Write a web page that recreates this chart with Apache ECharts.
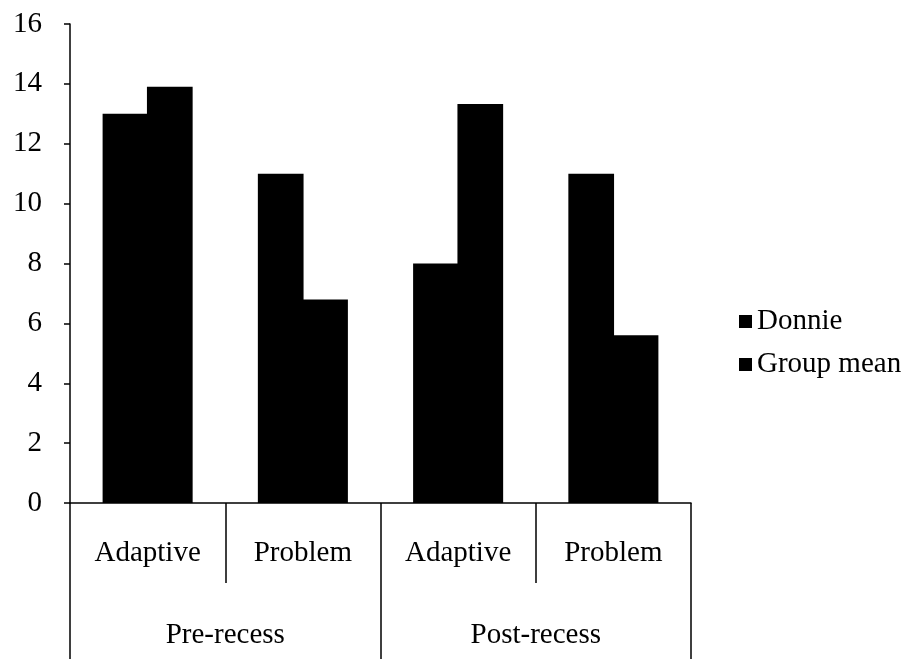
<!DOCTYPE html>
<html>
<head>
<meta charset="utf-8">
<script src="https://cdn.jsdelivr.net/npm/echarts@6/dist/echarts.min.js"></script>
<style>
  html, body { margin: 0; padding: 0; background: #fff; }
  #chart { width: 920px; height: 659px; }
</style>
</head>
<body>
<div id="chart"></div>
<script>
// chart data
var subCategories = ['Adaptive', 'Problem', 'Adaptive', 'Problem']
var groupCategories = ['Pre-recess', 'Post-recess']
var donnie = [13, 11, 8, 11]
var groupMean = [13.9, 6.8, 13.33, 5.6]

var serif = 'Liberation Serif, Times New Roman, serif'

var chart = echarts.init(document.getElementById('chart'))
chart.setOption({
    animation: false,
    textStyle: { fontFamily: serif, color: '#000' },
    grid: {
        left: 70,
        right: 229,
        top: 24,
        bottom: 156
    },
    legend: {
        orient: 'vertical',
        left: 734,
        top: 302,
        itemWidth: 13,
        itemHeight: 13,
        itemGap: 14,
        icon: 'rect',
        textStyle: { fontFamily: serif, fontSize: 29, color: '#000' },
        data: ['Donnie', 'Group mean']
    },
    xAxis: [{
        type: 'category',
        data: subCategories,
        position: 'bottom',
        axisLine: { show: true, lineStyle: { color: '#000', width: 1.5 } },
        axisTick: { show: true, interval: 0, length: 80, lineStyle: { color: '#000', width: 1.5 } },
        axisLabel: { interval: 0, margin: 36, fontFamily: serif, fontSize: 29, color: '#000' }
    }, {
        type: 'category',
        data: groupCategories,
        position: 'bottom',
        axisLine: { show: false },
        axisTick: { show: true, interval: 0, length: 160, lineStyle: { color: '#000', width: 1.5 } },
        axisLabel: { interval: 0, margin: 118, fontFamily: serif, fontSize: 29, color: '#000' }
    }],
    yAxis: {
        type: 'value',
        min: 0,
        max: 16,
        interval: 2,
        axisLine: { show: true, lineStyle: { color: '#000', width: 1.5 } },
        axisTick: { show: true, length: 6, lineStyle: { color: '#000', width: 1.5 } },
        splitLine: { show: false },
        axisLabel: { margin: 28, fontFamily: serif, fontSize: 29, color: '#000' }
    },
    series: [{
        name: 'Donnie',
        type: 'bar',
        data: donnie,
        barGap: '-3%',
        barCategoryGap: '42%',
        itemStyle: { color: '#000' }
    }, {
        name: 'Group mean',
        type: 'bar',
        data: groupMean,
        itemStyle: { color: '#000' }
    }]
})
</script>
</body>
</html>
